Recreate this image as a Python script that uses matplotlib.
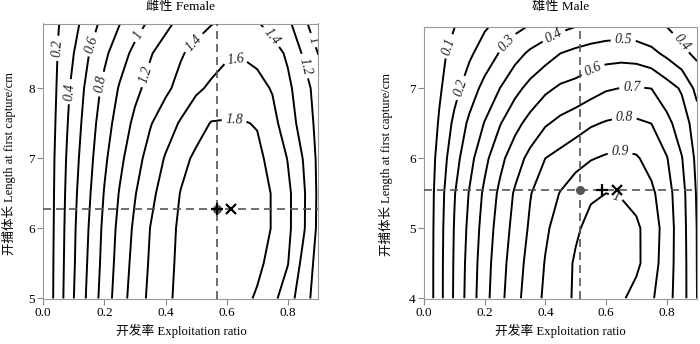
import numpy as np
import matplotlib
matplotlib.use("Agg")
import matplotlib.pyplot as plt

plt.rcParams['font.family'] = ['Liberation Serif', 'Noto Sans CJK SC']
plt.rcParams['axes.unicode_minus'] = False

# Exploitation ratio grid (columns) shared by both panels
e_grid = [0.00, 0.05, 0.10, 0.15, 0.20, 0.25, 0.30, 0.35, 0.40, 0.45,
          0.50, 0.55, 0.60, 0.65, 0.70, 0.75, 0.80, 0.85, 0.90]

# Female: length at first capture (rows) and yield per recruit
lc_female = [5.0, 5.5, 6.0, 6.5, 7.0, 7.5, 8.0, 8.5, 9.0]
ypr_female = [
    [0, 0.309, 0.600, 0.857, 1.093, 1.310, 1.493, 1.643, 1.762, 1.846, 1.893, 1.910, 1.897, 1.854, 1.776, 1.655, 1.490, 1.288, 1.103],
    [0, 0.303, 0.583, 0.833, 1.068, 1.282, 1.466, 1.622, 1.744, 1.841, 1.897, 1.924, 1.925, 1.897, 1.843, 1.741, 1.608, 1.347, 1.123],
    [0, 0.294, 0.573, 0.810, 1.048, 1.256, 1.437, 1.603, 1.728, 1.833, 1.893, 1.926, 1.933, 1.914, 1.868, 1.791, 1.644, 1.433, 1.157],
    [0, 0.285, 0.555, 0.778, 1.012, 1.214, 1.389, 1.549, 1.686, 1.808, 1.874, 1.913, 1.925, 1.909, 1.866, 1.791, 1.644, 1.437, 1.164],
    [0, 0.274, 0.530, 0.743, 0.964, 1.153, 1.323, 1.476, 1.616, 1.745, 1.834, 1.871, 1.885, 1.874, 1.838, 1.750, 1.592, 1.395, 1.158],
    [0, 0.253, 0.498, 0.708, 0.910, 1.089, 1.243, 1.386, 1.506, 1.621, 1.726, 1.810, 1.815, 1.812, 1.790, 1.660, 1.497, 1.321, 1.143],
    [0, 0.233, 0.462, 0.669, 0.849, 1.019, 1.152, 1.263, 1.361, 1.463, 1.568, 1.630, 1.680, 1.690, 1.660, 1.586, 1.443, 1.287, 1.113],
    [0, 0.215, 0.400, 0.600, 0.761, 0.912, 1.053, 1.184, 1.285, 1.381, 1.460, 1.520, 1.575, 1.585, 1.550, 1.480, 1.370, 1.181, 0.995],
    [0, 0.190, 0.332, 0.491, 0.650, 0.775, 0.894, 1.012, 1.129, 1.229, 1.300, 1.370, 1.415, 1.430, 1.390, 1.304, 1.224, 1.025, 0.880],
]
levels_female = [0.2, 0.4, 0.6, 0.8, 1.0, 1.2, 1.4, 1.6, 1.8]

# Male: length at first capture (rows) and yield per recruit
lc_male = [4.0, 4.5, 5.0, 5.5, 6.0, 6.5, 7.0, 7.5, 8.0]
ypr_male = [
    [0, 0.164, 0.313, 0.445, 0.566, 0.671, 0.768, 0.850, 0.917, 0.966, 1.013, 1.037, 1.037, 1.014, 0.966, 0.913, 0.837, 0.743, 0.600],
    [0, 0.164, 0.310, 0.438, 0.557, 0.659, 0.753, 0.835, 0.905, 0.959, 1.011, 1.046, 1.060, 1.052, 1.021, 0.945, 0.848, 0.743, 0.598],
    [0, 0.161, 0.305, 0.425, 0.542, 0.642, 0.732, 0.814, 0.886, 0.938, 0.987, 1.026, 1.044, 1.041, 1.018, 0.951, 0.856, 0.739, 0.597],
    [0, 0.154, 0.294, 0.407, 0.520, 0.620, 0.712, 0.795, 0.851, 0.905, 0.956, 0.988, 1.000, 0.993, 0.966, 0.919, 0.841, 0.732, 0.590],
    [0, 0.136, 0.261, 0.368, 0.474, 0.572, 0.654, 0.729, 0.800, 0.831, 0.862, 0.894, 0.912, 0.920, 0.910, 0.865, 0.806, 0.704, 0.575],
    [0, 0.109, 0.221, 0.320, 0.405, 0.493, 0.570, 0.633, 0.689, 0.725, 0.756, 0.788, 0.808, 0.820, 0.815, 0.799, 0.728, 0.651, 0.550],
    [0, 0.086, 0.168, 0.251, 0.330, 0.400, 0.471, 0.530, 0.580, 0.615, 0.630, 0.660, 0.690, 0.702, 0.705, 0.699, 0.643, 0.588, 0.470],
    [0, 0.072, 0.132, 0.184, 0.244, 0.306, 0.365, 0.417, 0.458, 0.500, 0.525, 0.545, 0.558, 0.563, 0.555, 0.525, 0.478, 0.422, 0.380],
    [0, 0.045, 0.087, 0.130, 0.172, 0.210, 0.245, 0.275, 0.305, 0.335, 0.360, 0.380, 0.395, 0.400, 0.398, 0.390, 0.375, 0.350, 0.320],
]
levels_male = [0.1, 0.2, 0.3, 0.4, 0.5, 0.6, 0.7, 0.8, 0.9, 1.0]

# Reference points: current (dot/dashed), E0.1 (+) and Emax (x)
female_cur = (0.570, 6.28)
female_e01 = 0.570
female_emax = 0.614
male_cur = (0.514, 5.543)
male_e01 = 0.586
male_emax = 0.635

x_ticks = [0.0, 0.2, 0.4, 0.6, 0.8]
x_tick_labels = ["0.0", "0.2", "0.4", "0.6", "0.8"]
y_ticks_female = [5, 6, 7, 8]
y_ticks_male = [4, 5, 6, 7]

W, H = 700, 344
fig = plt.figure(figsize=(W / 100, H / 100), dpi=100)


def px_axes(left, top, right, bottom):
    return fig.add_axes([left / W, 1 - bottom / H, (right - left) / W, (bottom - top) / H])


ax_f = px_axes(43.3, 23.5, 318.3, 298.5)
ax_m = px_axes(424.0, 27.0, 697.0, 298.5)

# label anchor points along each contour level
label_pos_female = {
    0.2: [(0.05, 8.57)], 0.4: [(0.095, 7.95)], 0.6: [(0.165, 8.62)],
    0.8: [(0.20, 8.05)], 1.0: [(0.31, 8.76), (0.885, 8.69)],
    1.2: [(0.334, 8.19), (0.85, 8.31)], 1.4: [(0.49, 8.66), (0.74, 8.71)],
    1.6: [(0.63, 8.40)], 1.8: [(0.625, 7.56)],
}
label_pos_male = {
    0.1: [(0.075, 7.61)], 0.2: [(0.124, 7.0)], 0.3: [(0.278, 7.63)],
    0.4: [(0.427, 7.76), (0.844, 7.64)], 0.5: [(0.657, 7.70)],
    0.6: [(0.555, 7.29)], 0.7: [(0.685, 7.0)], 0.8: [(0.66, 6.58)],
    0.9: [(0.646, 6.11)], 1.0: [(0.635, 5.48)],
}


def fmt_level(v):
    return f"{v:g}"


def draw_panel(ax, lc, ypr, levels, label_pos, cur, e01, emax, ylim, yticks):
    E, L = np.meshgrid(np.array(e_grid), np.array(lc))
    Z = np.array(ypr)
    ax.set_xlim(0, 0.9)
    ax.set_ylim(*ylim)
    for lev in levels:
        cs = ax.contour(E, L, Z, levels=[lev], colors='black',
                        linewidths=1.4, linestyles='solid')
        if lev in label_pos:
            texts = ax.clabel(cs, manual=label_pos[lev], inline=True,
                              inline_spacing=4, fmt=fmt_level, fontsize=10)
            for t in texts:
                t.set_fontstyle('italic')
                t.set_color('#222222')

    dash = (0, (4.8, 3.0))
    ax.axvline(cur[0], color='#555555', lw=1.2, ls=dash, zorder=3)
    ax.axhline(cur[1], color='#555555', lw=1.2, ls=dash, zorder=3)
    ax.plot([cur[0]], [cur[1]], 'o', color='#555555', ms=5.5, zorder=4)
    ax.plot([e01], [cur[1]], '+', color='black', ms=8, mew=1.6, zorder=5)
    ax.plot([emax], [cur[1]], 'x', color='black', ms=6.5, mew=1.6, zorder=5)

    ax.set_xlim(0, 0.9)
    ax.set_ylim(*ylim)
    ax.set_xticks(x_ticks)
    ax.set_xticklabels(x_tick_labels)
    ax.set_yticks(yticks)
    ax.set_yticklabels([str(v) for v in yticks])
    ax.tick_params(direction='out', length=4, width=0.8, color='#888888',
                   labelsize=9.5, pad=2)
    for s in ax.spines.values():
        s.set_color('#999999')
        s.set_linewidth(0.8)


draw_panel(ax_f, lc_female, ypr_female, levels_female, label_pos_female,
           female_cur, female_e01, female_emax, (5.0, 8.925), y_ticks_female)
draw_panel(ax_m, lc_male, ypr_male, levels_male, label_pos_male,
           male_cur, male_e01, male_emax, (3.996, 7.876), y_ticks_male)

# titles and axis labels
fig.text(181 / W, 1 - 7 / H, "雌性 Female", ha='center', va='center', fontsize=9.5)
fig.text(560.5 / W, 1 - 7 / H, "雄性 Male", ha='center', va='center', fontsize=9.5)
fig.text(181 / W, 1 - 331 / H, "开发率 Exploitation ratio", ha='center', va='center', fontsize=9.2)
fig.text(560.5 / W, 1 - 331 / H, "开发率 Exploitation ratio", ha='center', va='center', fontsize=9.2)
fig.text(9.5 / W, 1 - 163.5 / H, "开捕体长 Length at first capture/cm", ha='center', va='center',
         rotation=90, fontsize=9)
fig.text(386 / W, 1 - 164.5 / H, "开捕体长 Length at first capture/cm", ha='center', va='center',
         rotation=90, fontsize=9)

fig.savefig("out.png", dpi=100)
